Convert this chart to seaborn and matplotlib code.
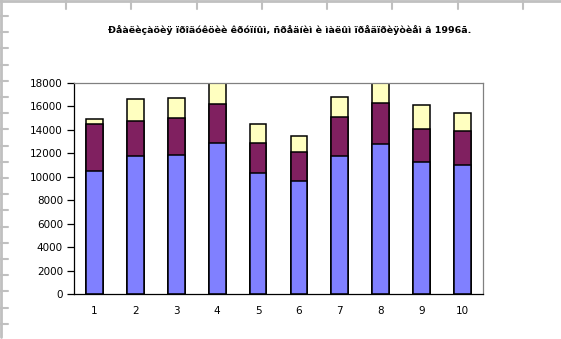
import matplotlib
matplotlib.use("Agg")
import matplotlib.pyplot as plt
from matplotlib.lines import Line2D
import numpy as np
import pandas as pd
import seaborn as sns

# Sales by enterprise size, 1996 (stacked components)
categories = ["1", "2", "3", "4", "5", "6", "7", "8", "9", "10"]
large = [10500, 11800, 11900, 12900, 10300, 9600, 11800, 12800, 11300, 11000]
medium = [4000, 3000, 3100, 3300, 2600, 2500, 3300, 3500, 2800, 2900]
small = [400, 1800, 1700, 1800, 1600, 1400, 1700, 1700, 2000, 1500]
y_ticks = [0, 2000, 4000, 6000, 8000, 10000, 12000, 14000, 16000, 18000]
title = "Ðåàëèçàöèÿ ïðîäóêöèè êðóïíûì, ñðåäíèì è ìàëûì ïðåäïðèÿòèåì â 1996ã."

sns.set_style("white")
plt.rcParams["font.family"] = ["DejaVu Sans"]

df = pd.DataFrame({"cat": categories, "large": large,
                   "medium": medium, "small": small})
df["lvl2"] = df["large"] + df["medium"]
df["lvl3"] = df["lvl2"] + df["small"]

W, H = 561, 339
fig = plt.figure(figsize=(W / 100, H / 100), dpi=100)
fig.patch.set_facecolor("white")
ax = fig.add_axes([74 / W, 1 - 294 / H, (483 - 74) / W, (294 - 83) / H])

# stacked look: draw cumulative totals from top segment down
for col, color in [("lvl3", "#FFFFC0"), ("lvl2", "#802060"), ("large", "#8080FF")]:
    sns.barplot(data=df, x="cat", y=col, color=color, width=0.41,
                edgecolor="black", linewidth=1.1, saturation=1, ax=ax,
                errorbar=None)

ax.set_xlim(-0.5, 9.5)
ax.set_ylim(0, 18000)
ax.set_xlabel("")
ax.set_ylabel("")
ax.set_yticks(y_ticks)
ax.set_yticklabels([str(v) for v in y_ticks], fontsize=7.5, color="black")
ax.set_xticks(range(len(categories)))
ax.set_xticklabels(categories, fontsize=7.5, color="black")
ax.tick_params(axis="x", length=0, pad=9)
ax.set_xticks(np.arange(-0.5, 10, 1.0), minor=True)
ax.tick_params(axis="x", which="minor", direction="inout", length=7,
               width=0.9, color="black")
ax.tick_params(axis="y", direction="out", length=5, width=0.9,
               color="black", pad=3, left=True)

for side in ["left", "bottom"]:
    ax.spines[side].set_color("black")
    ax.spines[side].set_linewidth(0.9)
for side in ["top", "right"]:
    ax.spines[side].set_color("#808080")
    ax.spines[side].set_linewidth(0.9)

fig.text(290 / W, 1 - 30 / H, title, ha="center", va="center",
         fontsize=6.8, fontweight="bold", color="black")

# worksheet grid remnants around the chart object
grey = "#C0C0C0"
def px_line(x0, y0, x1, y1, lw=1.5):
    fig.add_artist(Line2D([x0 / W, x1 / W], [1 - y0 / H, 1 - y1 / H],
                          color=grey, linewidth=lw,
                          transform=fig.transFigure))

px_line(0, 1, W, 1, lw=2.0)
px_line(1, 0, 1, 337, lw=2.0)
for x in [66, 131, 197, 262, 327, 392, 458, 523]:
    px_line(x, 0, x, 9)
for y in np.arange(16, 330, 16.2):
    px_line(0, y, 8, y)

fig.savefig("out.png", dpi=100, facecolor="white")
